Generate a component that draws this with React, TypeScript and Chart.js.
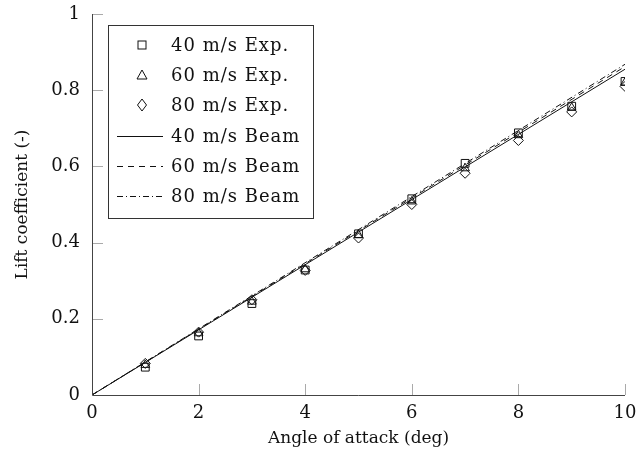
import React, { useEffect, useRef } from "react";
import { Chart, registerables } from "chart.js";

Chart.register(...registerables);

const angles = [1, 2, 3, 4, 5, 6, 7, 8, 9, 10];
const exp40 = [0.073, 0.155, 0.24, 0.328, 0.423, 0.515, 0.608, 0.688, 0.758, 0.823];
const exp60 = [0.079, 0.162, 0.245, 0.33, 0.42, 0.508, 0.595, 0.682, 0.754, 0.82];
const exp80 = [0.083, 0.165, 0.25, 0.327, 0.412, 0.5, 0.582, 0.668, 0.743, 0.81];

const beamAngles = [0, 10];
const beam40 = [0, 0.855];
const beam60 = [0, 0.862];
const beam80 = [0, 0.868];

const xTicks = [0, 2, 4, 6, 8, 10];
const yTicks = [0, 0.2, 0.4, 0.6, 0.8, 1];

const legendLabels = [
  "40 m/s Exp.",
  "60 m/s Exp.",
  "80 m/s Exp.",
  "40 m/s Beam",
  "60 m/s Beam",
  "80 m/s Beam",
];

const FONT = "'DejaVu Serif', serif";

const toPts = (xs: number[], ys: number[]) => xs.map((x, i) => ({ x, y: ys[i] }));

const tickPlugin = {
  id: "inwardTicks",
  afterDatasetsDraw(chart: any) {
    const ctx = chart.ctx;
    const xs = chart.scales.x;
    const ys = chart.scales.y;
    const a = chart.chartArea;
    ctx.save();
    ctx.strokeStyle = "#aaaaaa";
    ctx.lineWidth = 1;
    xTicks.forEach((t) => {
      if (t === 0) return;
      const px = Math.round(xs.getPixelForValue(t)) + 0.5;
      ctx.beginPath();
      ctx.moveTo(px, a.bottom);
      ctx.lineTo(px, a.bottom - 11);
      ctx.stroke();
    });
    yTicks.forEach((t) => {
      if (t === 0) return;
      const py = Math.round(ys.getPixelForValue(t)) + 0.5;
      ctx.beginPath();
      ctx.moveTo(a.left, py);
      ctx.lineTo(a.left + 11, py);
      ctx.stroke();
    });
    ctx.strokeStyle = "#444444";
    ctx.beginPath();
    ctx.moveTo(a.left + 0.5, a.top);
    ctx.lineTo(a.left + 0.5, a.bottom + 0.5);
    ctx.lineTo(a.right, a.bottom + 0.5);
    ctx.stroke();
    ctx.restore();
  },
  afterDraw(chart: any) {
    const ctx = chart.ctx;
    ctx.save();
    const bx = 108, by = 25, bw = 205, bh = 193;
    ctx.fillStyle = "#ffffff";
    ctx.fillRect(bx, by, bw, bh);
    ctx.strokeStyle = "#333333";
    ctx.lineWidth = 1;
    ctx.strokeRect(bx + 0.5, by + 0.5, bw, bh);
    const rowY = [45, 75, 105, 136, 166, 196];
    ctx.font = "18px " + FONT;
    try {
      (ctx as any).letterSpacing = "1px";
    } catch (e) {}
    ctx.textBaseline = "middle";
    legendLabels.forEach((lab, i) => {
      const y = rowY[i];
      ctx.fillStyle = "#111";
      ctx.fillText(lab, 171, y + 1);
      ctx.strokeStyle = "#111";
      ctx.lineWidth = 1;
      const mx = 142;
      if (i === 0) {
        ctx.strokeRect(mx - 4, y - 4, 8, 8);
      } else if (i === 1) {
        ctx.beginPath();
        ctx.moveTo(mx, y - 5);
        ctx.lineTo(mx + 5, y + 4);
        ctx.lineTo(mx - 5, y + 4);
        ctx.closePath();
        ctx.stroke();
      } else if (i === 2) {
        ctx.beginPath();
        ctx.moveTo(mx, y - 6);
        ctx.lineTo(mx + 4.5, y);
        ctx.lineTo(mx, y + 6);
        ctx.lineTo(mx - 4.5, y);
        ctx.closePath();
        ctx.stroke();
      } else {
        const dashes = [[], [6, 5], [6, 3, 1, 3]][i - 3];
        ctx.setLineDash(dashes);
        ctx.beginPath();
        ctx.moveTo(117, y + 0.5);
        ctx.lineTo(163, y + 0.5);
        ctx.stroke();
        ctx.setLineDash([]);
      }
    });
    ctx.restore();
  },
};

export default function App() {
  const ref = useRef<HTMLCanvasElement | null>(null);
  useEffect(() => {
    if (!ref.current) return;
    const markerBase = {
      type: "scatter" as const,
      showLine: false,
      borderColor: "#111",
      backgroundColor: "rgba(0,0,0,0)",
      borderWidth: 1,
      pointRadius: 5,
    };
    const lineBase = {
      type: "line" as const,
      borderColor: "#111",
      borderWidth: 1,
      pointRadius: 0,
      fill: false,
      tension: 0,
    };
    const chart = new Chart(ref.current, {
      type: "scatter",
      data: {
        datasets: [
          { ...lineBase, label: legendLabels[3], data: toPts(beamAngles, beam40) },
          { ...lineBase, label: legendLabels[4], data: toPts(beamAngles, beam60), borderDash: [6, 5] },
          { ...lineBase, label: legendLabels[5], data: toPts(beamAngles, beam80), borderDash: [6, 3, 1, 3] },
          { ...markerBase, label: legendLabels[0], data: toPts(angles, exp40), pointStyle: "rect", pointRadius: 5.5 },
          { ...markerBase, label: legendLabels[1], data: toPts(angles, exp60), pointStyle: "triangle" },
          { ...markerBase, label: legendLabels[2], data: toPts(angles, exp80), pointStyle: "rectRot" },
        ] as any,
      },
      plugins: [tickPlugin],
      options: {
        animation: false,
        responsive: false,
        maintainAspectRatio: false,
        layout: { padding: { top: 14, right: 11, left: 12, bottom: 13 } },
        plugins: { legend: { display: false }, tooltip: { enabled: false } },
        scales: {
          x: {
            type: "linear",
            min: 0,
            max: 10,
            afterBuildTicks: (s: any) => {
              s.ticks = xTicks.map((v) => ({ value: v }));
            },
            afterFit: (s: any) => {
              s.height = 54;
              s.paddingRight = 0;
              s.paddingLeft = 0;
            },
            grid: { display: false, drawTicks: false },
            border: { display: false },
            ticks: { color: "#111", font: { family: FONT, size: 18 }, padding: 8, maxRotation: 0 },
            title: {
              display: true,
              text: "Angle of attack (deg)",
              color: "#111",
              font: { family: FONT, size: 17 },
              padding: { top: 2, bottom: 0 },
            },
          },
          y: {
            type: "linear",
            min: 0,
            max: 1,
            afterBuildTicks: (s: any) => {
              s.ticks = yTicks.map((v) => ({ value: v }));
            },
            afterFit: (s: any) => {
              s.width = 80;
              s.paddingTop = 0;
              s.paddingBottom = 0;
            },
            grid: { display: false, drawTicks: false },
            border: { display: false },
            ticks: {
              color: "#111",
              font: { family: FONT, size: 18 },
              padding: 12,
              callback: (v: any) => String(v),
            },
            title: {
              display: true,
              text: "Lift coefficient (-)",
              color: "#111",
              font: { family: FONT, size: 17 },
              padding: { top: 0, bottom: 8 },
            },
          },
        },
      },
    });
    return () => chart.destroy();
  }, []);
  return (
    <div style={{ position: "absolute", left: 0, top: 0, width: 636, height: 462, background: "#fff" }}>
      <canvas ref={ref} width={636} height={462} style={{ width: 636, height: 462 }} />
    </div>
  );
}
